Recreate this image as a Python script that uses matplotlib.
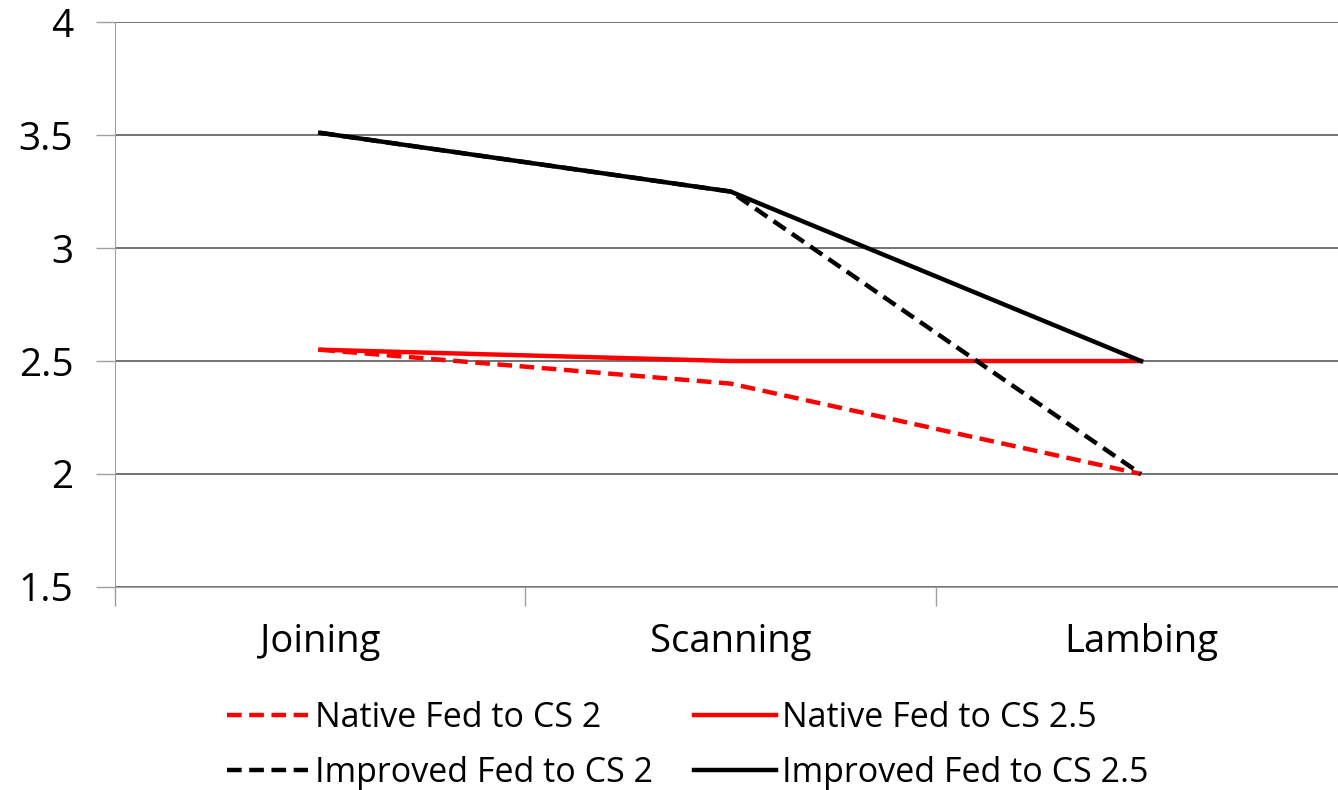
import numpy as np
import matplotlib.pyplot as plt
from matplotlib.ticker import FixedLocator

plt.rcParams['font.family'] = ['Open Sans', 'DejaVu Sans']

stages = ['Joining', 'Scanning', 'Lambing']
native_cs2 = [2.55, 2.40, 2.00]
native_cs25 = [2.55, 2.50, 2.50]
improved_cs2 = [3.51, 3.25, 2.00]
improved_cs25 = [3.51, 3.25, 2.50]
yticks = [1.5, 2, 2.5, 3, 3.5, 4]

fig = plt.figure(figsize=(13.38, 7.9), dpi=100)
ax = fig.add_axes([0.086, 0.257, 0.914, 0.715])

x = np.arange(len(stages))
lw = 3.2
dash = (3.3, 1.7)
ax.plot(x, native_cs2, color='#ff0000', lw=lw, dashes=dash, label='Native Fed to CS 2')
ax.plot(x, native_cs25, color='#ff0000', lw=lw, label='Native Fed to CS 2.5')
ax.plot(x, improved_cs2, color='black', lw=lw, dashes=dash, label='Improved Fed to CS 2')
ax.plot(x, improved_cs25, color='black', lw=lw, label='Improved Fed to CS 2.5')

ax.set_ylim(1.5, 4)
ax.set_xlim(-0.5, 2.48)
ax.set_yticks(yticks)
ax.set_yticklabels([f'{v:g}' for v in yticks], fontsize=28)
ax.set_xticks(x)
ax.set_xticklabels(stages, fontsize=27.5)
ax.tick_params(axis='x', which='major', length=0, pad=26)
ax.xaxis.set_minor_locator(FixedLocator([-0.5, 0.5, 1.5, 2.5]))
ax.tick_params(axis='x', which='minor', length=14, color='#a0a0a0', width=1)
ax.tick_params(axis='y', length=14, color='#a0a0a0', width=1, pad=16)

ax.grid(axis='y', color='#5a5a5a', lw=1.2)
ax.set_axisbelow(True)
for s in ['top', 'right']:
    ax.spines[s].set_visible(False)
ax.spines['left'].set_color('#a0a0a0')
ax.spines['bottom'].set_color('#a0a0a0')

h, l = ax.get_legend_handles_labels()
order = [0, 2, 1, 3]
fig.legend([h[i] for i in order], [l[i] for i in order], ncol=2,
           loc='center', bbox_to_anchor=(0.514, 0.056), frameon=False,
           fontsize=24.5, handlelength=2.4, handletextpad=0.2,
           columnspacing=1.2, labelspacing=0.62)

fig.savefig('out.png', dpi=100)
